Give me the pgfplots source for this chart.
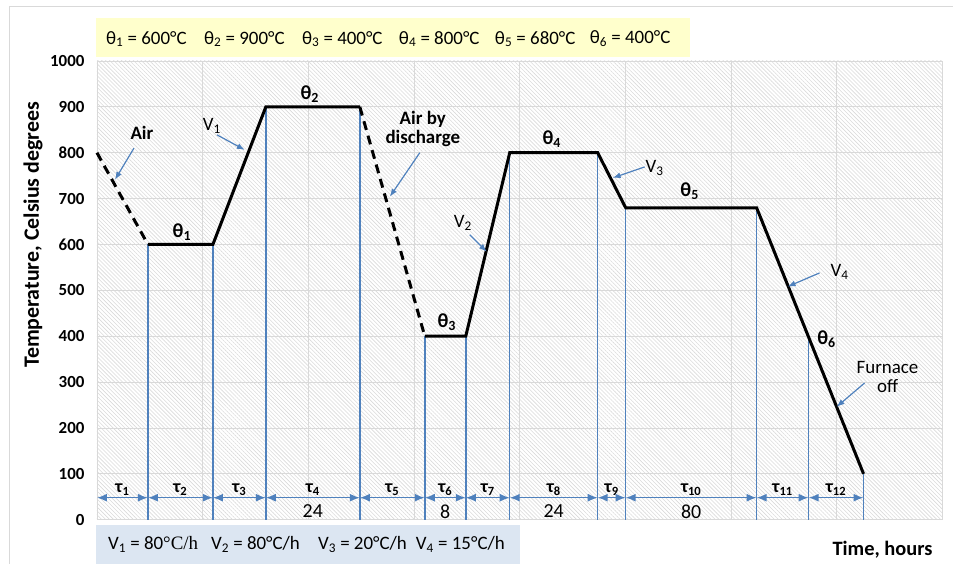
\documentclass[border=0pt]{standalone}
\usepackage{pgfplots}
\pgfplotsset{compat=1.18}
\usepackage{fontspec}
\setmainfont{Carlito}
\newfontfamily\tnr{Liberation Serif}
\usetikzlibrary{patterns.meta,arrows.meta}

\definecolor{curveblue}{RGB}{79,129,189}
\definecolor{gridgray}{RGB}{217,217,217}
\definecolor{hatchgray}{RGB}{218,218,218}
\definecolor{boxyellow}{RGB}{255,255,204}
\definecolor{boxblue}{RGB}{220,230,242}

\newcommand\fs[1]{\fontsize{#1}{#1}\selectfont}

\begin{document}
\begin{tikzpicture}[
  dim/.style={curveblue, line width=1.5bp, {Latex[length=10bp,width=8bp]}-{Latex[length=10bp,width=8bp]}},
  pointer/.style={curveblue, line width=1.2bp, -{Latex[length=8bp,width=6bp]}}]
\begin{scope}[x=1bp,y=1bp]
% canvas of the reference, 953 x 564
\path (0,0) rectangle (953,564);
\draw[gridgray, line width=1bp] (10,0) -- (10,557) -- (953,557);

% value boxes
\fill[boxyellow] (96,507) rectangle (690,546);
\fill[boxblue] (96,0) rectangle (520,39);
\begin{scope}[every node/.style={anchor=west, inner sep=0pt, font=\fs{19}}]
  \node at (106,525) {θ\textsubscript{1} = 600°C};
  \node at (204,525) {θ\textsubscript{2} = 900°C};
  \node at (302,525) {θ\textsubscript{3} = 400°C};
  \node at (399,525) {θ\textsubscript{4} = 800°C};
  \node at (495,525) {θ\textsubscript{5} = 680°C};
  \node at (590,525) {θ\textsubscript{6} = 400°C};
  \node at (108,19) {V\textsubscript{1} = 80{\tnr °C/h}};
  \node at (211,19) {V\textsubscript{2} = 80°C/h};
  \node at (318,19) {V\textsubscript{3} = 20°C/h};
  \node at (416,19) {V\textsubscript{4} = 15°C/h};
\end{scope}

\node[rotate=90, font=\fs{22}\bfseries] at (33,329) {Temperature, Celsius degrees};
\node[font=\fs{20.5}\bfseries] at (883,14) {Time, hours};
\end{scope}

\begin{axis}[
  at={(97bp,44bp)}, anchor=south west,
  scale only axis, width=846bp, height=459bp,
  xmin=0, xmax=846, ymin=0, ymax=1000,
  xtick distance=105.75, xticklabels={},
  ytick distance=100,
  grid=major,
  major grid style={gridgray, line width=0.8bp},
  axis line style={draw=none},
  tick style={draw=none},
  /pgf/number format/assume math mode=true,
  /pgf/number format/1000 sep={},
  yticklabel style={font=\fs{17}\bfseries, xshift=-9bp},
  axis background/.style={pattern={Lines[angle=-45,distance=2.8bp,line width=0.6bp]}, pattern color=hatchgray},
  clip=false,
]
% blue drops from the corners of the schedule
\addplot[ycomb, curveblue, line width=1.5bp, no marks] coordinates {
  (51,600) (116,600) (169,900) (263,900) (328,400) (369,400)
  (413,800) (501,800) (529,680) (660,680) (712,400) (767,100)};

% heat treatment schedule
\addplot[black, line width=3bp, dash pattern=on 9bp off 6bp] coordinates {(0,800) (51,600)};
\addplot[black, line width=3bp] coordinates {(51,600) (116,600) (169,900) (263,900)};
\addplot[black, line width=3bp, dash pattern=on 9bp off 6bp] coordinates {(263,900) (328,400)};
\addplot[black, line width=3bp] coordinates {
  (328,400) (369,400) (413,800) (501,800) (529,680) (660,680) (767,100)};

% interval arrows
\draw[dim] (0,48) -- (51,48);
\draw[dim] (51,48) -- (116,48);
\draw[dim] (116,48) -- (169,48);
\draw[dim] (169,48) -- (263,48);
\draw[dim] (263,48) -- (328,48);
\draw[dim] (328,48) -- (369,48);
\draw[dim] (369,48) -- (413,48);
\draw[dim] (413,48) -- (501,48);
\draw[dim] (501,48) -- (529,48);
\draw[dim] (529,48) -- (660,48);
\draw[dim] (660,48) -- (712,48);
\draw[dim] (712,48) -- (767,48);

\begin{scope}[every node/.style={font=\fs{18}\bfseries}]
  \node at (25.5,66) {τ\textsubscript{1}};
  \node at (83.5,66) {τ\textsubscript{2}};
  \node at (142.5,66) {τ\textsubscript{3}};
  \node at (216,66) {τ\textsubscript{4}};
  \node at (295.5,66) {τ\textsubscript{5}};
  \node at (348.5,66) {τ\textsubscript{6}};
  \node at (391,66) {τ\textsubscript{7}};
  \node at (457,66) {τ\textsubscript{8}};
  \node at (515,66) {τ\textsubscript{9}};
  \node at (594.5,66) {τ\textsubscript{10}};
  \node at (686,66) {τ\textsubscript{11}};
  \node at (739.5,66) {τ\textsubscript{12}};
\end{scope}
\begin{scope}[every node/.style={font=\fs{20}}]
  \node at (216,18) {24};
  \node at (348.5,18) {8};
  \node at (457,18) {24};
  \node at (594.5,18) {80};
\end{scope}

% labels on the schedule
\begin{scope}[every node/.style={font=\fs{20}\bfseries}]
  \node at (85,627) {θ\textsubscript{1}};
  \node at (213,928) {θ\textsubscript{2}};
  \node at (350,431) {θ\textsubscript{3}};
  \node at (455,830) {θ\textsubscript{4}};
  \node at (593,717) {θ\textsubscript{5}};
  \node at (730,394) {θ\textsubscript{6}};
\end{scope}
\begin{scope}[every node/.style={font=\fs{19}}]
  \node at (115,858) {V\textsubscript{1}};
  \node at (366,647) {V\textsubscript{2}};
  \node at (558,767) {V\textsubscript{3}};
  \node at (743,540) {V\textsubscript{4}};
  \node[align=center] at (791,312) {Furnace\\off};
\end{scope}
\node[font=\fs{19}\bfseries] at (45,843) {Air};
\node[font=\fs{19}\bfseries, align=center] at (326,852) {Air by\\discharge};

\draw[pointer] (37,810) -- (18,741);
\draw[pointer] (120,839) -- (148,806);
\draw[pointer] (323,800) -- (293,704);
\draw[pointer] (373,621) -- (390,584);
\draw[pointer] (548,769) -- (516,745);
\draw[pointer] (723,538) -- (691,508);
\draw[pointer] (768,298) -- (740,246);
\end{axis}
\end{tikzpicture}
\end{document}
